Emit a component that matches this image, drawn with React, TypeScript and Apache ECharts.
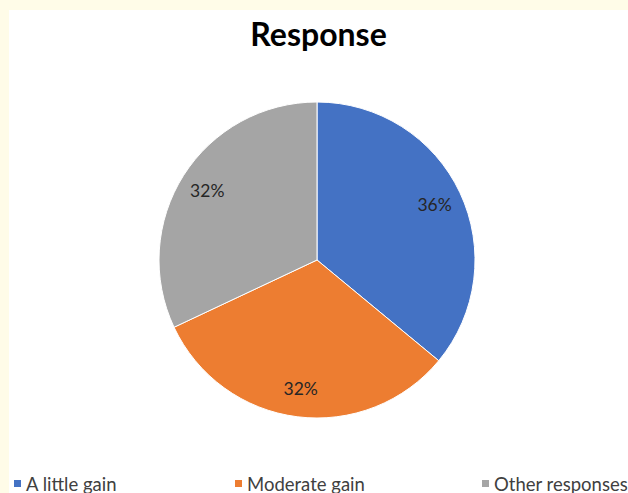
import React, { useEffect, useRef } from "react";
import * as echarts from "echarts";

const categories = ["A little gain", "Moderate gain", "Other responses"];
const values = [36, 32, 32];
const colors = ["#4472C4", "#ED7D31", "#A5A5A5"];
const titleText = "Response";

export default function App() {
  const ref = useRef<HTMLDivElement>(null);
  useEffect(() => {
    if (!ref.current) return;
    const chart = echarts.init(ref.current, null, { renderer: "svg" });
    const data = categories.map((name, i) => ({
      name,
      value: values[i],
      itemStyle: { color: colors[i] },
    }));
    const font = "Lato, 'Open Sans', sans-serif";
    const legendBase = {
      orient: "horizontal",
      top: 464,
      padding: 0,
      itemWidth: 9,
      itemHeight: 9,
      icon: "rect",
      itemGap: 6,
      textStyle: { fontFamily: font, fontSize: 18.5, color: "#404040", padding: [0, 0, 0, -1] },
    };
    chart.setOption({
      animation: false,
      backgroundColor: "#ffffff",
      title: {
        text: titleText,
        left: "center",
        top: 2,
        textStyle: { fontFamily: font, fontSize: 32, fontWeight: "bold", color: "#000000" },
      },
      legend: categories.map((c, i) => ({
        ...legendBase,
        left: [3, 224, 471][i],
        data: [c],
      })),
      series: [
        {
          type: "pie",
          center: [308, 250],
          radius: [0, 158],
          startAngle: 90,
          clockwise: true,
          data,
          label: { show: false },
          labelLine: { show: false },
          itemStyle: { borderColor: "#ffffff", borderWidth: 1 },
          silent: true,
        },
        {
          type: "pie",
          center: [308, 250],
          radius: [96, 158],
          startAngle: 90,
          clockwise: true,
          data: categories.map((name, i) => ({ name, value: values[i] })),
          itemStyle: { color: "transparent", borderWidth: 0 },
          label: {
            show: true,
            position: "inside",
            formatter: (p: any) => p.value + "%",
            fontFamily: font,
            fontSize: 17.5,
            color: "#262626",
          },
          labelLine: { show: false },
          silent: true,
          legendHoverLink: false,
        },
      ],
    });
    return () => chart.dispose();
  }, []);
  return (
    <div style={{ position: "absolute", left: 0, top: 0, width: 628, height: 493, background: "#FFFCE8", overflow: "hidden" }}>
      <div ref={ref} style={{ position: "absolute", left: 9, top: 10, width: 619, height: 483, background: "#ffffff" }} />
    </div>
  );
}
